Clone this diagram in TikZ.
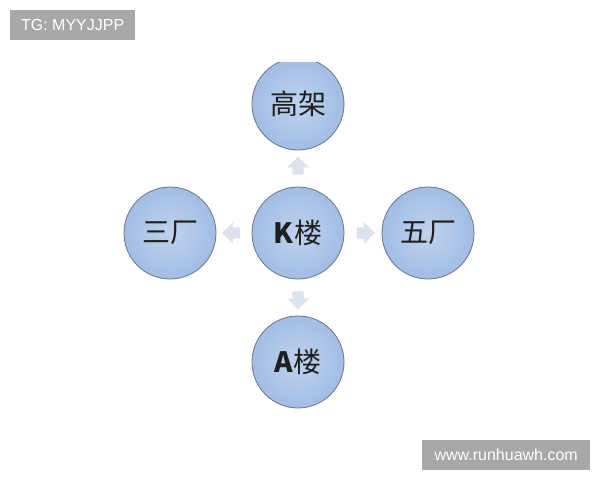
\documentclass[tikz,border=0pt]{standalone}
\usepackage{fontspec}
\setmainfont{Liberation Sans}
\newfontfamily\cjk{Noto Sans CJK SC}
\usetikzlibrary{calc,positioning,shapes.arrows}
\definecolor{ballin}{HTML}{BFD2EE}
\definecolor{ballout}{HTML}{A2BDE3}
\definecolor{ballline}{HTML}{66768C}
\definecolor{arrowfill}{HTML}{DCE3EE}
\definecolor{taggray}{HTML}{A8A8A8}
\tikzset{
    ball/.style={circle, draw=ballline, line width=0.8pt, minimum size=92pt,
                 inner color=ballin, outer color=ballout, text=black!88,
                 font=\cjk\fontsize{28}{28}\selectfont},
    hint/.style={single arrow, draw=none, fill=arrowfill, inner sep=0pt,
                 minimum height=18pt, single arrow head extend=5pt},
    tag/.style={fill=taggray, text=white, inner sep=0pt,
                font=\fontsize{16}{16}\selectfont}
}
\tikzset{
    between/.style args={#1 and #2}{
         at = ($(#1)!0.5!(#2)$)
    }
}
\newcommand{\shaft}{\rule{0pt}{11pt}}
\begin{document}
\begin{tikzpicture}[x=1pt,y=-1pt]
   \useasboundingbox[fill=white] (0,0) rectangle (600,480);
   % circles
   \node[ball] (kbuild) at (298,233) {\textbf{K}\cjk 楼};
   \begin{scope}
     \clip (0,62) rectangle (600,480);
     \node[ball] (viaduct) at (298,104) {高架};
   \end{scope}
   \node[ball] (third) at (170,233) {三厂};
   \node[ball] (fifth) at (428,233) {五厂};
   \node[ball] (abuild) at (298,362) {\textbf{A}\cjk 楼};
   % arrows
   \node[hint, rotate=90]  [between=kbuild and viaduct] (up) {\shaft};
   \node[hint, rotate=180] [between=kbuild and third] (left) {\shaft};
   \node[hint]             [between=kbuild and fifth] (right) {\shaft};
   \node[hint, rotate=270] [between=kbuild and abuild] (down) {\shaft};
   % tags
   \node[tag, anchor=north west, minimum width=125pt, minimum height=30pt]
        (tg) at (10,10) {TG: MYYJJPP};
   \node[tag, anchor=north west, minimum width=168pt, minimum height=30pt]
        (site) at (422,440) {www.runhuawh.com};
\end{tikzpicture}
\end{document}
